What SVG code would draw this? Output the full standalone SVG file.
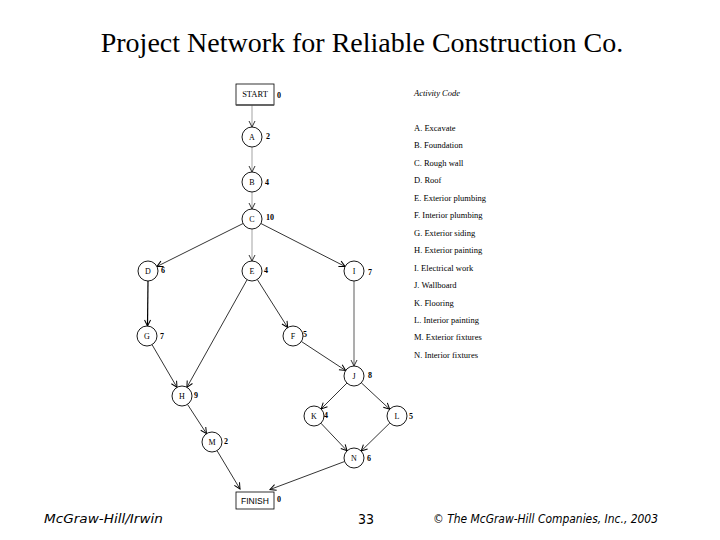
<svg xmlns="http://www.w3.org/2000/svg" width="720" height="540" viewBox="0 0 720 540">
<style>
.title{font-family:"Liberation Serif",serif;font-size:28px;fill:#000}
.node circle{fill:#fff;stroke:#000;stroke-width:0.9}
.node rect{fill:#fff;stroke:#000;stroke-width:0.8}
.lbl{font-family:"Liberation Serif",serif;font-size:8px;fill:#000;text-anchor:middle}
.dur{font-family:"Liberation Serif",serif;font-size:8px;font-weight:bold;fill:#000}
.leg{font-family:"Liberation Serif",serif;font-size:8.5px;fill:#000}
.e{fill:none;stroke:#000;stroke-width:0.8;marker-end:url(#ab)}
.g{fill:none;stroke:#999;stroke-width:0.9;marker-end:url(#ag)}
.foot{font-family:"DejaVu Sans",sans-serif;font-size:11.5px;fill:#000;font-style:italic}
</style>
<defs>
<marker id="ab" viewBox="-7 -4 8 8" refX="0" refY="0" markerWidth="8" markerHeight="8" markerUnits="userSpaceOnUse" orient="auto"><path d="M-6,-3 L0,0 L-6,3" fill="none" stroke="#000" stroke-width="1"/></marker>
<marker id="ag" viewBox="-7 -4 8 8" refX="0" refY="0" markerWidth="8" markerHeight="8" markerUnits="userSpaceOnUse" orient="auto"><path d="M-6,-3 L0,0 L-6,3" fill="none" stroke="#333" stroke-width="1"/></marker>
</defs>
<rect width="720" height="540" fill="#fff"/>
<text class="title" x="362" y="52" text-anchor="middle">Project Network for Reliable Construction Co.</text>

<g id="connectors">
<line class="g" x1="252" y1="105" x2="252" y2="127"/>
<line class="g" x1="252" y1="147" x2="252" y2="172"/>
<line class="g" x1="252" y1="192" x2="252" y2="209"/>
<line class="e" x1="243.1" y1="223.5" x2="156.9" y2="266.5"/>
<line class="g" x1="252" y1="229" x2="252" y2="261"/>
<line class="e" x1="260.9" y1="223.5" x2="345.1" y2="266.5"/>
<line class="e" x1="148" y1="281" x2="147.5" y2="326" style="stroke-width:1.2"/>
<line class="e" x1="247.1" y1="279.7" x2="186.9" y2="387.3"/>
<line class="e" x1="257.3" y1="279.5" x2="287.7" y2="327.5"/>
<line class="g" x1="354" y1="281" x2="354" y2="366" style="stroke-width:1.6"/>
<line class="e" x1="152" y1="344.6" x2="177" y2="387.4"/>
<line class="e" x1="301.4" y1="341.5" x2="345.6" y2="370.5"/>
<line class="e" x1="187.5" y1="404.4" x2="206.5" y2="433.6"/>
<line class="e" x1="346.9" y1="383.1" x2="321.1" y2="408.9"/>
<line class="e" x1="361.3" y1="382.8" x2="389.7" y2="409.2"/>
<line class="e" x1="320.9" y1="423.2" x2="347.1" y2="450.8"/>
<line class="e" x1="389.8" y1="423" x2="361.2" y2="451"/>
<line class="e" x1="217" y1="450.6" x2="240" y2="489"/>
<line class="e" x1="344.6" y1="461.5" x2="270" y2="489.5"/>
</g>

<g id="START" class="node"><rect x="236" y="84" width="38" height="21"/><line x1="236" y1="105" x2="274" y2="105" stroke="#555" stroke-width="1.5"/><text class="lbl" x="255" y="97" style="font-size:8.5px">START</text><text class="dur" x="277" y="98">0</text></g>
<g id="A" class="node"><circle cx="252" cy="137" r="10"/><text class="lbl" x="252" y="140">A</text><text class="dur" x="266" y="139">2</text></g>
<g id="B" class="node"><circle cx="252" cy="182" r="10"/><text class="lbl" x="252" y="185">B</text><text class="dur" x="265" y="185">4</text></g>
<g id="C" class="node"><circle cx="252" cy="219" r="10"/><text class="lbl" x="252" y="222">C</text><text class="dur" x="266" y="220">10</text></g>
<g id="D" class="node"><circle cx="148" cy="271" r="10"/><text class="lbl" x="148" y="274">D</text><text class="dur" x="161" y="273">6</text></g>
<g id="E" class="node"><circle cx="252" cy="271" r="10"/><text class="lbl" x="252" y="274">E</text><text class="dur" x="264" y="273">4</text></g>
<g id="I" class="node"><circle cx="354" cy="271" r="10"/><text class="lbl" x="354" y="274">I</text><text class="dur" x="368" y="275">7</text></g>
<g id="G" class="node"><circle cx="147" cy="336" r="10"/><text class="lbl" x="147" y="339">G</text><text class="dur" x="160" y="339">7</text></g>
<g id="F" class="node"><circle cx="293" cy="336" r="10"/><text class="lbl" x="293" y="339">F</text><text class="dur" x="303" y="337">5</text></g>
<g id="J" class="node"><circle cx="354" cy="376" r="10"/><text class="lbl" x="354" y="379">J</text><text class="dur" x="368" y="378">8</text></g>
<g id="H" class="node"><circle cx="182" cy="396" r="10"/><text class="lbl" x="182" y="399">H</text><text class="dur" x="194" y="398">9</text></g>
<g id="K" class="node"><circle cx="314" cy="416" r="10"/><text class="lbl" x="314" y="419">K</text><text class="dur" x="324" y="418">4</text></g>
<g id="L" class="node"><circle cx="397" cy="416" r="10"/><text class="lbl" x="397" y="419">L</text><text class="dur" x="409" y="419">5</text></g>
<g id="M" class="node"><circle cx="212" cy="442" r="10"/><text class="lbl" x="212" y="445">M</text><text class="dur" x="224" y="444">2</text></g>
<g id="N" class="node"><circle cx="354" cy="458" r="10"/><text class="lbl" x="354" y="461">N</text><text class="dur" x="367" y="461">6</text></g>
<g id="FINISH" class="node"><rect x="236" y="492" width="38" height="17"/><text x="255" y="504" text-anchor="middle" style="font-family:'Liberation Sans',sans-serif;font-size:8.5px">FINISH</text><text class="dur" x="277" y="502">0</text></g>

<g id="legend">
<text class="leg" x="414" y="96" font-style="italic">Activity Code</text>
<text class="leg" x="414" y="131">A. Excavate</text>
<text class="leg" x="414" y="148">B. Foundation</text>
<text class="leg" x="414" y="166">C. Rough wall</text>
<text class="leg" x="414" y="183">D. Roof</text>
<text class="leg" x="414" y="201">E. Exterior plumbing</text>
<text class="leg" x="414" y="218">F. Interior plumbing</text>
<text class="leg" x="414" y="236">G. Exterior siding</text>
<text class="leg" x="414" y="253">H. Exterior painting</text>
<text class="leg" x="414" y="271">I. Electrical work</text>
<text class="leg" x="414" y="288">J. Wallboard</text>
<text class="leg" x="414" y="306">K. Flooring</text>
<text class="leg" x="414" y="323">L. Interior painting</text>
<text class="leg" x="414" y="340">M. Exterior fixtures</text>
<text class="leg" x="414" y="358">N. Interior fixtures</text>
</g>

<text class="foot" x="44" y="523" textLength="119" lengthAdjust="spacingAndGlyphs">McGraw-Hill/Irwin</text>
<text x="366" y="524" text-anchor="middle" style="font-family:'DejaVu Sans Condensed','DejaVu Sans',sans-serif;font-size:14px;fill:#000">33</text>
<text class="foot" x="433" y="523" textLength="225" lengthAdjust="spacingAndGlyphs">© The McGraw-Hill Companies, Inc., 2003</text>
</svg>
